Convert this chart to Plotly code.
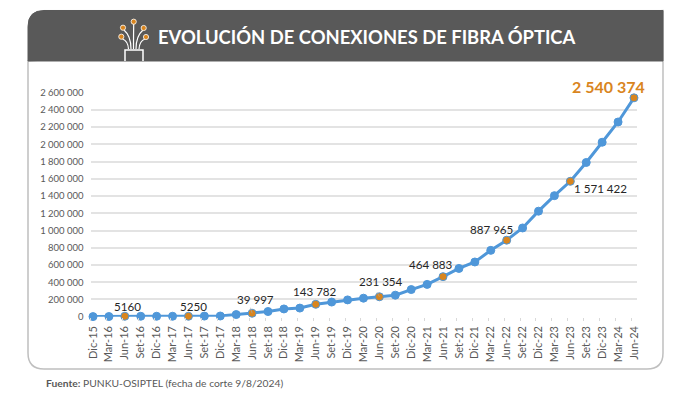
import plotly.graph_objects as go

categories = ["Dic-15","Mar-16","Jun-16","Set-16","Dic-16","Mar-17","Jun-17","Set-17","Dic-17",
              "Mar-18","Jun-18","Set-18","Dic-18","Mar-19","Jun-19","Set-19","Dic-19","Mar-20",
              "Jun-20","Set-20","Dic-20","Mar-21","Jun-21","Set-21","Dic-21","Mar-22","Jun-22",
              "Set-22","Dic-22","Mar-23","Jun-23","Set-23","Dic-23","Mar-24","Jun-24"]
conexiones = [1000,2000,5160,5200,5200,5200,5250,7000,8000,25000,39997,60000,90000,100000,143782,
              170000,195000,215000,231354,250000,315000,375000,464883,560000,635000,770000,887965,
              1030000,1225000,1405000,1571422,1790000,2025000,2260000,2540374]
highlighted = ["Jun-16","Jun-17","Jun-18","Jun-19","Jun-20","Jun-21","Jun-22","Jun-23","Jun-24"]
label_text = ["5160","5250","39 997","143 782","231 354","464 883","887 965","1 571 422","2 540 374"]
y_ticks = list(range(0, 2600001, 200000))
y_tick_text = [f"{v:,}".replace(",", " ") for v in y_ticks]

W, H = 700, 395
BLUE = "#4F97D9"; ORANGE = "#D9851E"; GREY = "#595959"
FONT = "Lato"

def px(x): return x / W
def py(y): return 1 - y / H
def P(x, y): return f"{px(x):.5f},{py(y):.5f}"

L, R, T, HB, B, RAD = 28, 663, 10.5, 61, 369, 16
shapes = [
    dict(type="path", xref="paper", yref="paper", layer="below", fillcolor="white",
         line=dict(color="#BFBFBF", width=1.5),
         path=f"M {P(L,HB)} L {P(L,B-RAD)} Q {P(L,B)} {P(L+RAD,B)} L {P(R-RAD,B)} Q {P(R,B)} {P(R,B-RAD)} L {P(R,T)} Z"),
    dict(type="path", xref="paper", yref="paper", layer="below", fillcolor=GREY,
         line=dict(color=GREY, width=1),
         path=f"M {P(L,HB)} L {P(L,T+RAD)} Q {P(L,T)} {P(L+RAD,T)} L {P(R,T)} L {P(R,HB)} Z"),
    dict(type="path", xref="paper", yref="paper", line=dict(color="white", width=1.5),
         path=f"M {P(125,61)} L {P(125,50)} L {P(143,50)} L {P(143,61)}"),
]
fibres = [((133.7,24),(133.5,35),(133.5,49)), ((124,30),(131,36),(131,49)), ((143,30),(136,36),(136,49)),
          ((122.5,39),(128,41),(128.5,49)), ((145,39),(139.5,41),(139,49))]
for a, c, b in fibres:
    shapes.append(dict(type="path", xref="paper", yref="paper", line=dict(color="white", width=1.2),
                       path=f"M {P(*a)} Q {P(*c)} {P(*b)}"))
for cx, cy in [(133.7,21.7),(123,27.7),(143.7,28),(121.3,36.7),(146,37)]:
    r = 2.6
    shapes.append(dict(type="circle", xref="paper", yref="paper", fillcolor=ORANGE,
                       line=dict(color="white", width=0.8),
                       x0=px(cx-r), x1=px(cx+r), y0=py(cy+r), y1=py(cy-r)))

x_idx = list(range(len(categories)))
x_range = [-0.157, 34.19]
tick_shift = 0.16

fig = go.Figure()
fig.add_trace(go.Scatter(x=x_idx, y=conexiones, mode="lines+markers", cliponaxis=False, showlegend=False,
                         line=dict(color=BLUE, width=3),
                         marker=dict(size=8, color=[ORANGE if c in highlighted else BLUE for c in categories],
                                     line=dict(color=BLUE, width=1))))
fig.add_trace(go.Scatter(x=x_idx, y=conexiones, xaxis="x2", mode="none", showlegend=False, hoverinfo="skip"))

offsets = [(3,10),(5,10),(3,14),(-1,13),(2,15),(-12,12),(-15,11),(30,-7),(-25,11)]
annotations = []
for cat, txt, (dx, dy) in zip(highlighted, label_text, offsets):
    i = categories.index(cat)
    last = cat == highlighted[-1]
    annotations.append(dict(x=i, y=conexiones[i], xref="x", yref="y", text=f"<b>{txt}</b>" if last else txt,
                            showarrow=False, xshift=dx, yshift=dy, xanchor="center", yanchor="middle",
                            font=dict(family=FONT, size=16 if last else 11.6,
                                      color=ORANGE if last else "#262626")))
# thin leader lines under two labels
for cat, (ax, ay) in [("Jun-18", (-2, -7)), ("Jun-20", (-3, -6))]:
    i = categories.index(cat)
    annotations.append(dict(x=i, y=conexiones[i], xref="x", yref="y", text="", showarrow=True, arrowhead=0,
                            arrowwidth=0.7, arrowcolor="#A6A6A6", ax=ax, ay=ay, standoff=0))
annotations.append(dict(x=px(367), y=py(37), xref="paper", yref="paper", showarrow=False,
                        xanchor="center", yanchor="middle",
                        text="<b>EVOLUCIÓN DE CONEXIONES DE FIBRA ÓPTICA</b>",
                        font=dict(family=FONT, size=18.4, color="white")))
annotations.append(dict(x=px(44), y=py(382.5), xref="paper", yref="paper", showarrow=False,
                        xanchor="left", yanchor="middle",
                        text="<b>Fuente:</b> PUNKU-OSIPTEL (fecha de corte 9/8/2024)",
                        font=dict(family=FONT, size=10.3, color="#595959")))

fig.update_layout(
    width=W, height=H, margin=dict(l=0, r=0, t=0, b=0, pad=0, autoexpand=False), autosize=False,
    paper_bgcolor="white", plot_bgcolor="rgba(0,0,0,0)", shapes=shapes, annotations=annotations,
    font=dict(family=FONT),
    xaxis=dict(domain=[px(90.5), px(637)], range=x_range, tickmode="array", tickvals=x_idx, ticktext=categories,
               tickangle=-90, ticks="outside", ticklen=4, tickcolor="rgba(0,0,0,0)", showgrid=False, zeroline=False, showline=False, anchor="y",
               automargin=False, tickfont=dict(family=FONT, size=11, color="#595959")),
    xaxis2=dict(domain=[px(90.5), px(637)], range=[x_range[0]+tick_shift, x_range[1]+tick_shift],
                overlaying="x", anchor="y", side="bottom", tickmode="array", tickvals=x_idx, showticklabels=False,
                ticks="outside", ticklen=3, tickcolor="#D9D9D9", tickwidth=1, showgrid=False, zeroline=False),
    yaxis=dict(domain=[py(316.7), py(92.7)], range=[0, 2600000], tickmode="array", tickvals=y_ticks,
               ticktext=y_tick_text, showgrid=True, gridcolor="#E3E3E3", gridwidth=1.5, zeroline=False,
               automargin=False, ticks="outside", ticklen=4, tickcolor="rgba(0,0,0,0)",
               tickfont=dict(family=FONT, size=9.5, color="#595959"), anchor="x"),
)
fig.write_html("out.html", post_script="document.body.style.margin='0';", config=dict(displayModeBar=False))
